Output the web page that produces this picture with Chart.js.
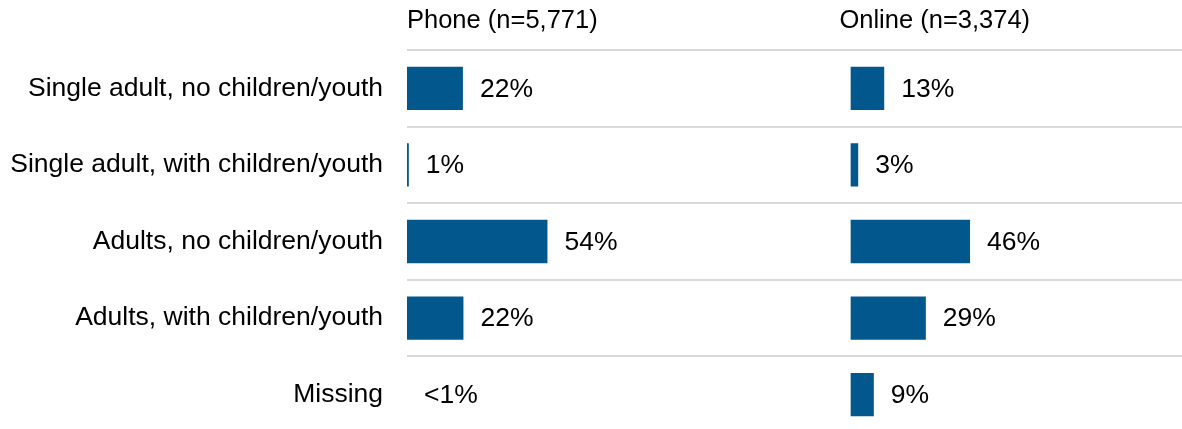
<!DOCTYPE html>
<html>
<head>
<meta charset="utf-8">
<script src="https://cdn.jsdelivr.net/npm/chart.js@4"></script>
<style>
  html, body { margin: 0; padding: 0; background: #fff; overflow: hidden; }
  #wrap { width: 1182px; height: 433px; position: relative; }
</style>
</head>
<body>
<div id="wrap"><canvas id="chart"></canvas></div>
<script>
// Data
const categories = [
  'Single adult, no children/youth',
  'Single adult, with children/youth',
  'Adults, no children/youth',
  'Adults, with children/youth',
  'Missing'
];
const phoneValues = [21.5, 0.7, 54, 21.7, 0];
const phoneLabels = ['22%', '1%', '54%', '22%', '<1%'];
const onlineValues = [13, 3, 46, 29, 9];
const onlineLabels = ['13%', '3%', '46%', '29%', '9%'];
const panelTitles = ['Phone (n=5,771)', 'Online (n=3,374)'];

const FONT = '"Liberation Sans", Arial, sans-serif';
const BAR = '#02588c';

// value labels at the end of each bar
const valueLabels = {
  id: 'valueLabels',
  afterDatasetsDraw(chart) {
    const ctx = chart.ctx;
    ctx.save();
    ctx.font = '26.5px ' + FONT;
    ctx.fillStyle = '#000';
    ctx.textAlign = 'left';
    ctx.textBaseline = 'middle';
    chart.data.datasets.forEach((ds, i) => {
      chart.getDatasetMeta(i).data.forEach((bar, j) => {
        ctx.fillText(ds.valueLabels[j], bar.x + 17, bar.y + 1);
      });
    });
    ctx.restore();
  }
};

// panel headings above each x scale
const panelHeads = {
  id: 'panelHeads',
  afterDraw(chart) {
    const ctx = chart.ctx;
    ctx.save();
    ctx.font = '25.5px ' + FONT;
    ctx.fillStyle = '#000';
    ctx.textAlign = 'left';
    ctx.textBaseline = 'alphabetic';
    ctx.fillText(panelTitles[0], chart.scales.x.left, 28);
    ctx.fillText(panelTitles[1], chart.scales.x2.left - 11, 28);
    ctx.restore();
  }
};

new Chart(document.getElementById('chart'), {
  type: 'bar',
  data: {
    labels: categories,
    datasets: [
      {
        label: 'Phone',
        data: phoneValues,
        valueLabels: phoneLabels,
        xAxisID: 'x',
        backgroundColor: BAR,
        grouped: false,
        categoryPercentage: 1,
        barPercentage: 0.565
      },
      {
        label: 'Online',
        data: onlineValues,
        valueLabels: onlineLabels,
        xAxisID: 'x2',
        backgroundColor: BAR,
        grouped: false,
        categoryPercentage: 1,
        barPercentage: 0.565
      }
    ]
  },
  options: {
    indexAxis: 'y',
    responsive: true,
    maintainAspectRatio: false,
    animation: false,
    layout: { padding: { top: 50, right: 0, bottom: 0, left: 0 } },
    plugins: {
      legend: { display: false },
      tooltip: { enabled: false }
    },
    scales: {
      x: {
        position: 'bottom',
        stack: 'panels',
        stackWeight: 170.5,
        min: 0,
        max: 170.5,
        display: false
      },
      x2: {
        position: 'bottom',
        stack: 'panels',
        stackWeight: 127.5,
        min: 0,
        max: 127.5,
        display: false
      },
      y: {
        afterFit: (scale) => {
          scale.width = 407;
          // labels sit inside their rows, no extra room needed above/below
          scale.paddingTop = 0;
          scale.paddingBottom = 0;
        },
        border: { display: false },
        grid: {
          offset: true,
          color: '#d9d9d9',
          lineWidth: 2,
          drawTicks: false
        },
        ticks: {
          padding: 24,
          color: '#000',
          font: { family: FONT, size: 26.5 }
        }
      }
    }
  },
  plugins: [valueLabels, panelHeads]
});
</script>
</body>
</html>
